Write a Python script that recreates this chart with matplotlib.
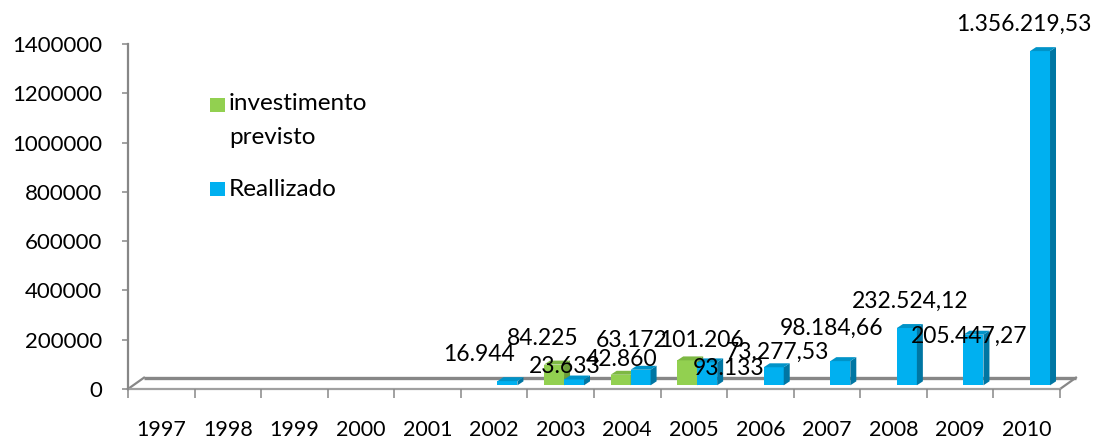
import numpy as np
import matplotlib
matplotlib.use("Agg")
import matplotlib.pyplot as plt
from matplotlib.patches import Polygon, Rectangle

# ---- data -------------------------------------------------------------
anos = ['1997', '1998', '1999', '2000', '2001', '2002', '2003',
        '2004', '2005', '2006', '2007', '2008', '2009', '2010']
nan = np.nan
investimento_previsto = [nan, nan, nan, nan, nan, nan, 84225,
                         42860, 101206, nan, nan, nan, nan, nan]
realizado = [nan, nan, nan, nan, nan, 16944, 23633,
             63172, 93133, 73277.53, 98184.66, 232524.12, 205447.27, 1356219.53]
yticks = [0, 200000, 400000, 600000, 800000, 1000000, 1200000, 1400000]

# label offsets (pixels) relative to the top-centre of each bar front
off_previsto = {6: (-11, 26), 7: (1, 15), 8: (14, 20)}
off_realizado = {5: (-28, 27), 6: (-9, 13), 7: (-9, 29), 8: (21, -6),
                 9: (4, 15), 10: (-9, 33), 11: (3, 27), 12: (-4, -2), 13: (-16, 27)}

# ---- style ------------------------------------------------------------
plt.rcParams['font.family'] = ['Lato', 'DejaVu Sans']
GREEN, GREEN_SIDE, GREEN_TOP = '#92D050', '#6C9E38', '#7DB843'
BLUE, BLUE_SIDE, BLUE_TOP = '#00B0F0', '#0076A3', '#0093C8'
GRID = '#878787'

W, H = 1098, 441
fig = plt.figure(figsize=(W / 100, H / 100), dpi=100)
ax = fig.add_axes([128 / W, 1 - 389 / H, (1060 - 128) / W, (389 - 44) / H])
ax.set_xlim(-0.5, 13.5)
ax.set_ylim(0, 1400000)

# 3-D geometry in data units
floor_dx, floor_dy = 0.24, 46000       # depth of the floor
bar_dx, bar_dy = 0.09, 16000           # depth of each bar
base = 15000                           # bars stand a little inside the floor
shift = 0.05
width = 0.30

# floor
floor = Polygon([(-0.5, 0), (13.5, 0), (13.5 + floor_dx, floor_dy), (-0.5 + floor_dx, floor_dy)],
                closed=True, facecolor='white', edgecolor='none', clip_on=False, zorder=1)
ax.add_patch(floor)
ax.plot([-0.5 + floor_dx, 13.5 + floor_dx], [floor_dy, floor_dy], color=GRID, lw=2.4,
        clip_on=False, zorder=1.5, solid_capstyle='butt')
ax.plot([13.5, 13.5 + floor_dx], [0, floor_dy], color=GRID, lw=1.6, clip_on=False, zorder=1.5)
ax.plot([-0.5, -0.5 + floor_dx], [0, floor_dy], color=GRID, lw=1.6, clip_on=False, zorder=1.5)
ax.plot([-0.5, 13.5], [0, 0], color='#A0A0A0', lw=1.6, clip_on=False, zorder=1.5)


def draw_series(values, xoff, front, side, top):
    x = np.arange(len(values)) + xoff
    ax.bar(x, values, width=width, bottom=base, color=front, zorder=3, linewidth=0)
    for xi, v in zip(x, values):
        if np.isnan(v):
            continue
        xl, xr = xi - width / 2, xi + width / 2
        yb, yt = base, base + v
        ax.add_patch(Polygon([(xr, yb), (xr + bar_dx, yb + bar_dy), (xr + bar_dx, yt + bar_dy), (xr, yt)],
                             closed=True, facecolor=side, edgecolor='none', zorder=3))
        ax.add_patch(Polygon([(xl, yt), (xr, yt), (xr + bar_dx, yt + bar_dy), (xl + bar_dx, yt + bar_dy)],
                             closed=True, facecolor=top, edgecolor='none', zorder=3))
    return x


def fmt(v):
    if float(v).is_integer():
        s = f"{int(v):,}".replace(',', '.')
    else:
        s = f"{v:,.2f}".replace(',', 'X').replace('.', ',').replace('X', '.')
    return s


x_prev = draw_series(investimento_previsto, shift - width / 2, GREEN, GREEN_SIDE, GREEN_TOP)
x_real = draw_series(realizado, shift + width / 2, BLUE, BLUE_SIDE, BLUE_TOP)

for xs, vals, offs in [(x_prev, investimento_previsto, off_previsto),
                       (x_real, realizado, off_realizado)]:
    for i, (xi, v) in enumerate(zip(xs, vals)):
        if np.isnan(v):
            continue
        dx, dy = offs[i]
        ax.annotate(fmt(v), (xi, base + v), xytext=(dx, dy), textcoords='offset pixels',
                    ha='center', va='center', fontsize=16.5, color='black', zorder=6,
                    annotation_clip=False)

# axes
for s in ['top', 'right', 'bottom']:
    ax.spines[s].set_visible(False)
ax.spines['left'].set_color(GRID)
ax.spines['left'].set_linewidth(1.6)
ax.spines['left'].set_zorder(2)

ax.set_yticks(yticks)
ax.set_yticklabels([str(t) for t in yticks])
ax.tick_params(axis='y', length=4.3, width=1.1, color=GRID, pad=14.5, labelsize=16, labelcolor='black')

ax.set_xticks(np.arange(len(anos)))
ax.set_xticklabels(anos)
ax.set_xticks(np.arange(len(anos) + 1) - 0.5, minor=True)
ax.tick_params(axis='x', which='major', length=0, pad=22.5, labelsize=15.5, labelcolor='black')
ax.tick_params(axis='x', which='minor', length=6.5, width=1.1, color=GRID)

# legend
fig.patches.append(Rectangle((210 / W, 1 - 112 / H), 15 / W, 14 / H, transform=fig.transFigure,
                             facecolor=GREEN, edgecolor='none'))
fig.patches.append(Rectangle((210 / W, 1 - 196 / H), 15 / W, 14 / H, transform=fig.transFigure,
                             facecolor=BLUE, edgecolor='none'))
fig.text(229 / W, 1 - 104 / H, 'investimento', fontsize=17.5, va='center', ha='left')
fig.text(229 / W, 1 - 138 / H, 'previsto', fontsize=17.5, va='center', ha='left')
fig.text(229 / W, 1 - 189 / H, 'Reallizado', fontsize=17.5, va='center', ha='left')

fig.savefig('out.png', dpi=100)
